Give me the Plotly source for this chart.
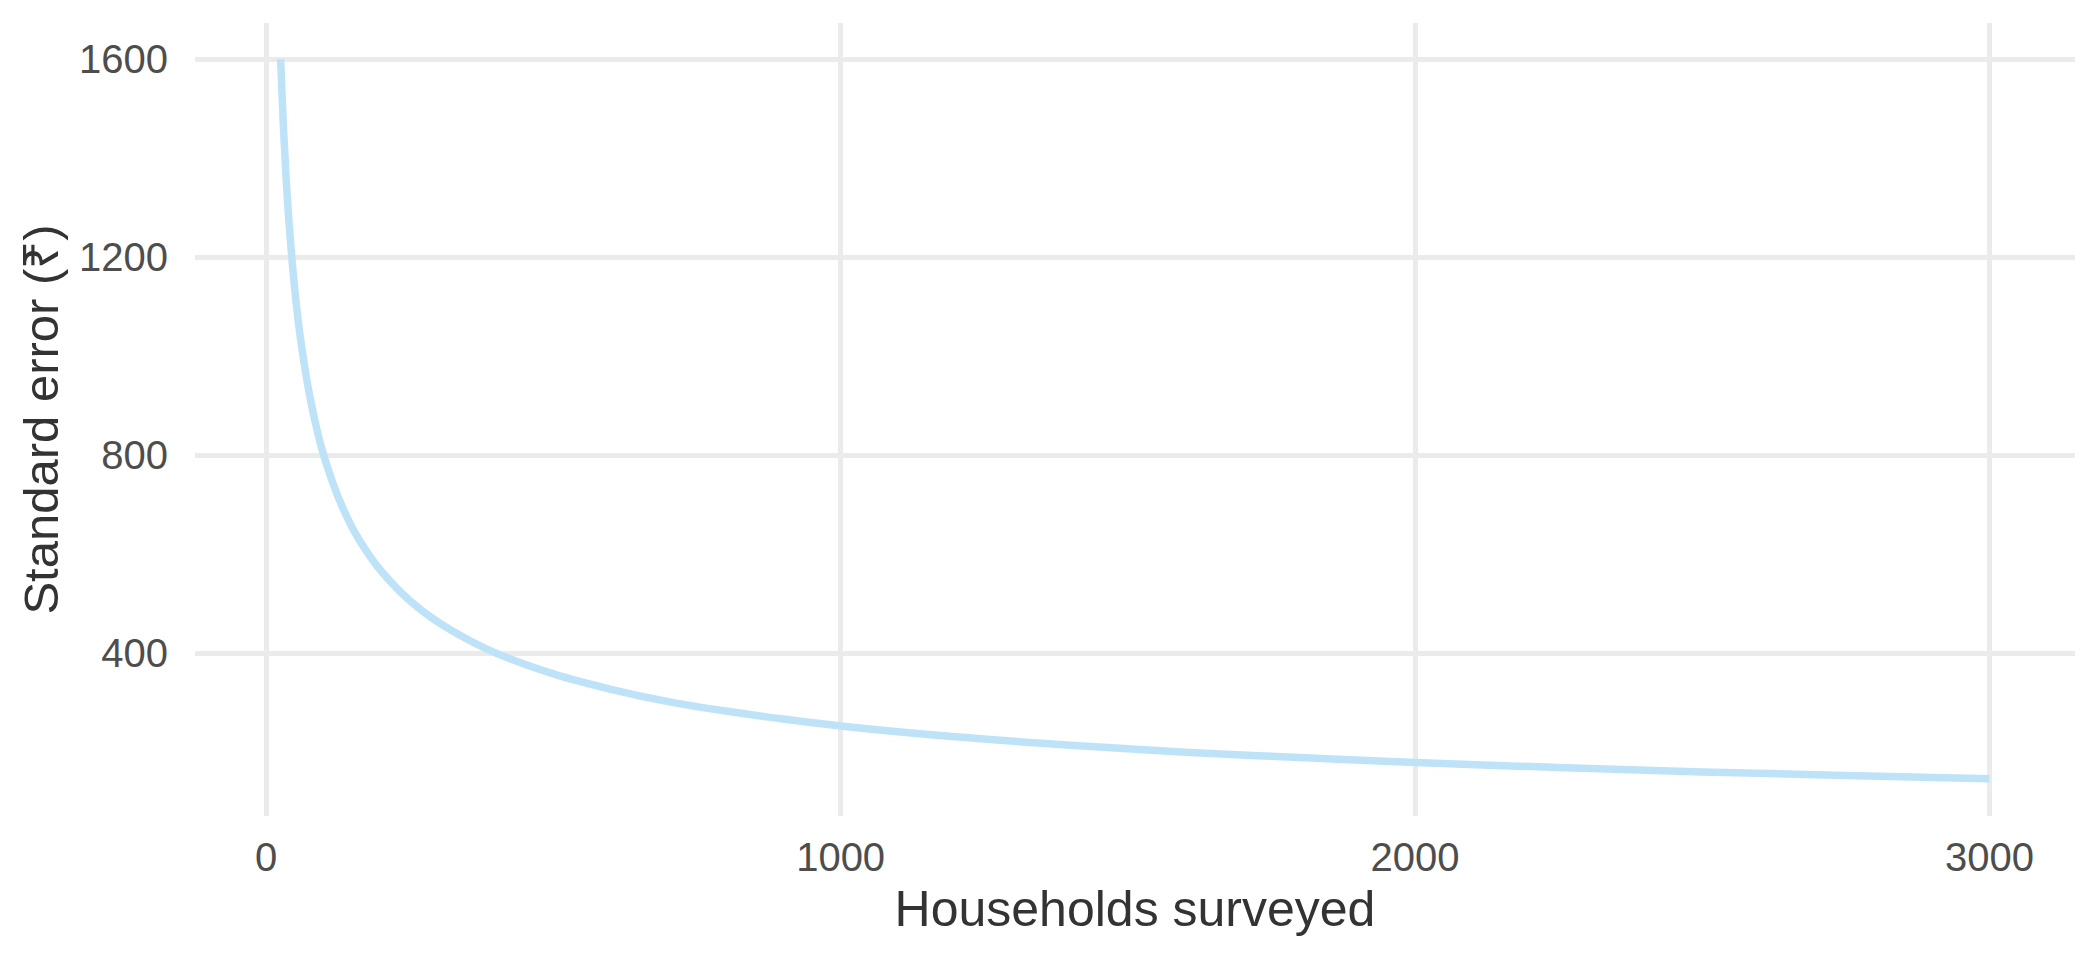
import plotly.graph_objects as go

households = [25, 30, 35, 40, 50, 60, 75, 90, 100, 125, 150, 175, 200, 250, 300,
              350, 400, 500, 600, 700, 800, 900, 1000, 1200, 1400, 1600, 1800,
              2000, 2250, 2500, 2750, 3000]
std_error = [1600, 1461, 1352, 1265, 1131, 1033, 924, 843, 800, 716, 653, 605,
             566, 506, 462, 428, 400, 358, 327, 302, 283, 267, 253, 231, 214,
             200, 189, 179, 169, 160, 153, 146]

x_ticks = [0, 1000, 2000, 3000]
y_ticks = [400, 800, 1200, 1600]

fig = go.Figure()
fig.add_trace(go.Scatter(
    x=households, y=std_error, mode="lines",
    line=dict(color="#BEE3F8", width=7.5, shape="spline", smoothing=1.0),
    hoverinfo="skip", showlegend=False,
))

font_family = "Liberation Sans, Arial, sans-serif"

fig.update_layout(
    width=2100, height=960,
    margin=dict(l=187, r=33, t=15, b=152),
    paper_bgcolor="white", plot_bgcolor="white",
    font=dict(family=font_family, color="#4D4D4D"),
    xaxis=dict(
        range=[-124, 3149], tickvals=x_ticks, ticktext=[str(v) for v in x_ticks],
        showgrid=True, gridcolor="#EBEBEB", gridwidth=4.5, zeroline=False,
        showline=False, ticks="outside", ticklen=6, tickcolor="rgba(0,0,0,0)",
        tickfont=dict(size=40, color="#4D4D4D", family=font_family),
        title=dict(text="Households surveyed", standoff=12,
                   font=dict(size=50, color="#333333", family=font_family)),
    ),
    yaxis=dict(
        range=[71, 1673], tickvals=y_ticks, ticktext=[str(v) for v in y_ticks],
        showgrid=True, gridcolor="#EBEBEB", gridwidth=4.5, zeroline=False,
        showline=False, ticks="outside", ticklen=18, tickcolor="rgba(0,0,0,0)",
        tickfont=dict(size=40, color="#4D4D4D", family=font_family),
        title=dict(text="Standard error (₹)", standoff=4,
                   font=dict(size=49, color="#333333", family=font_family)),
    ),
)

fig.write_html("out.html")
